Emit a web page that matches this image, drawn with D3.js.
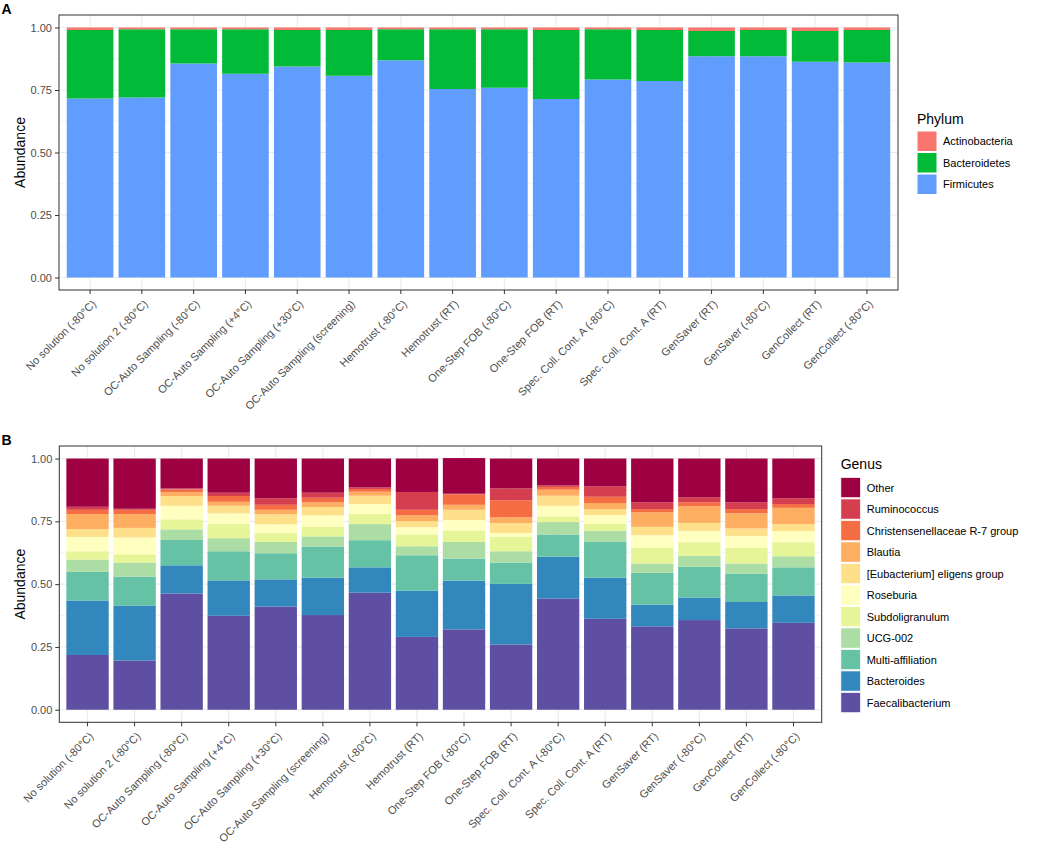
<!DOCTYPE html>
<html>
<head>
<meta charset="utf-8">
<script src="https://cdn.jsdelivr.net/npm/d3@7"></script>
<style>
  html, body { margin: 0; padding: 0; background: #fff; }
  svg { display: block; font-family: "Liberation Sans", Arial, sans-serif; }
</style>
</head>
<body>
<svg id="chart" width="1050" height="844"></svg>
<script>
// ---------- DATA ----------
const samples = [
  "No solution (-80°C)", "No solution 2 (-80°C)", "OC-Auto Sampling (-80°C)",
  "OC-Auto Sampling (+4°C)", "OC-Auto Sampling (+30°C)", "OC-Auto Sampling (screening)",
  "Hemotrust (-80°C)", "Hemotrust (RT)", "One-Step FOB (-80°C)", "One-Step FOB (RT)",
  "Spec. Coll. Cont. A (-80°C)", "Spec. Coll. Cont. A (RT)", "GenSaver (RT)",
  "GenSaver (-80°C)", "GenCollect (RT)", "GenCollect (-80°C)"
];

const phyla = ["Actinobacteria", "Bacteroidetes", "Firmicutes"];
const phylumColors = ["#F8766D", "#00BA38", "#619CFF"];
const firmicutes     = [0.716,0.720,0.856,0.815,0.844,0.807,0.869,0.754,0.759,0.714,0.792,0.786,0.885,0.885,0.863,0.860];
const bacteroidetes  = [0.274,0.273,0.137,0.178,0.146,0.183,0.124,0.239,0.234,0.276,0.201,0.204,0.101,0.105,0.123,0.130];
const actinobacteria = [0.010,0.007,0.007,0.007,0.010,0.010,0.007,0.007,0.007,0.010,0.007,0.010,0.014,0.010,0.014,0.010];

const genera = ["Other","Ruminococcus","Christensenellaceae R-7 group","Blautia",
  "[Eubacterium] eligens group","Roseburia","Subdoligranulum","UCG-002",
  "Multi-affiliation","Bacteroides","Faecalibacterium"];
const genusColors = ["#9E0142","#D53E4F","#F46D43","#FDAE61","#FEE08B","#FFFFBF",
  "#E6F598","#ABDDA4","#66C2A5","#3288BD","#5E4FA2"];
const faecalibacterium = [0.218,0.196,0.463,0.374,0.411,0.377,0.466,0.290,0.320,0.260,0.443,0.362,0.332,0.357,0.324,0.346];
const bacteroides      = [0.217,0.219,0.112,0.141,0.108,0.149,0.101,0.184,0.194,0.241,0.166,0.164,0.086,0.090,0.105,0.109];
const multiAffiliation = [0.114,0.115,0.101,0.116,0.104,0.124,0.108,0.141,0.088,0.085,0.089,0.142,0.127,0.122,0.113,0.112];
const ucg002           = [0.049,0.056,0.042,0.052,0.045,0.040,0.064,0.036,0.066,0.045,0.049,0.044,0.037,0.044,0.040,0.044];
const subdoligranulum  = [0.033,0.033,0.040,0.056,0.035,0.038,0.041,0.047,0.046,0.057,0.023,0.028,0.062,0.054,0.062,0.056];
const roseburia        = [0.057,0.067,0.054,0.043,0.035,0.046,0.039,0.029,0.041,0.016,0.042,0.035,0.051,0.045,0.048,0.044];
const eubacterium      = [0.031,0.038,0.039,0.030,0.040,0.033,0.033,0.024,0.041,0.039,0.040,0.024,0.033,0.032,0.030,0.028];
const blautia          = [0.060,0.055,0.015,0.016,0.018,0.019,0.016,0.023,0.020,0.023,0.024,0.024,0.058,0.066,0.060,0.065];
const christensenella  = [0.017,0.017,0.011,0.023,0.020,0.018,0.011,0.022,0.042,0.068,0.011,0.025,0.013,0.016,0.017,0.015];
const ruminococcus     = [0.012,0.004,0.004,0.013,0.026,0.020,0.006,0.071,0.002,0.047,0.006,0.041,0.027,0.020,0.027,0.023];
const other            = [0.192,0.200,0.119,0.136,0.158,0.136,0.115,0.133,0.142,0.119,0.107,0.111,0.174,0.154,0.174,0.158];

const yTicks = [0, 0.25, 0.5, 0.75, 1];
const yMinor = [0.125, 0.375, 0.625, 0.875];

// ---------- BUILD TABLES ----------
const phylumSeries = { "Actinobacteria": actinobacteria, "Bacteroidetes": bacteroidetes, "Firmicutes": firmicutes };
const genusSeries = {
  "Other": other, "Ruminococcus": ruminococcus, "Christensenellaceae R-7 group": christensenella,
  "Blautia": blautia, "[Eubacterium] eligens group": eubacterium, "Roseburia": roseburia,
  "Subdoligranulum": subdoligranulum, "UCG-002": ucg002, "Multi-affiliation": multiAffiliation,
  "Bacteroides": bacteroides, "Faecalibacterium": faecalibacterium
};

function table(series, keys) {
  return samples.map((s, i) => {
    const row = { sample: s };
    keys.forEach(k => row[k] = series[k][i]);
    return row;
  });
}

const svg = d3.select("#chart");
svg.append("rect").attr("width", 1050).attr("height", 844).attr("fill", "#fff");

function panel(cfg) {
  const { x0, x1, y0, y1, keys, colors, series, legendTitle, legX, legTitleY, legKeyY, letter, letterY } = cfg;
  const g = svg.append("g");
  const x = d3.scaleBand().domain(samples).range([x0, x1]).paddingInner(0.1).paddingOuter(0.15);
  const y = d3.scaleLinear().domain([-0.05, 1.05]).range([y1, y0]);

  // grid
  const grid = g.append("g");
  grid.selectAll(".minor").data(yMinor).join("line")
    .attr("x1", x0).attr("x2", x1).attr("y1", d => y(d)).attr("y2", d => y(d))
    .attr("stroke", "#ebebeb").attr("stroke-width", 0.6);
  grid.selectAll(".major").data(yTicks).join("line")
    .attr("x1", x0).attr("x2", x1).attr("y1", d => y(d)).attr("y2", d => y(d))
    .attr("stroke", "#ebebeb").attr("stroke-width", 1.1);
  grid.selectAll(".vmajor").data(samples).join("line")
    .attr("x1", d => x(d) + x.bandwidth() / 2).attr("x2", d => x(d) + x.bandwidth() / 2)
    .attr("y1", y0).attr("y2", y1)
    .attr("stroke", "#ebebeb").attr("stroke-width", 1.1);

  // bars (stack from bottom: last key at bottom)
  const stackKeys = keys.slice().reverse();
  const stacked = d3.stack().keys(stackKeys)(table(series, keys));
  const colorOf = d3.scaleOrdinal().domain(keys).range(colors);
  g.append("g").selectAll("g").data(stacked).join("g")
    .attr("fill", d => colorOf(d.key))
    .selectAll("rect").data(d => d).join("rect")
    .attr("x", d => x(d.data.sample))
    .attr("width", x.bandwidth())
    .attr("y", d => y(d[1]))
    .attr("height", d => y(d[0]) - y(d[1]));

  // border
  g.append("rect").attr("x", x0).attr("y", y0).attr("width", x1 - x0).attr("height", y1 - y0)
    .attr("fill", "none").attr("stroke", "#333").attr("stroke-width", 1);

  // y axis
  const ya = g.append("g").attr("transform", `translate(${x0},0)`)
    .call(d3.axisLeft(y).tickValues(yTicks).tickFormat(d3.format(".2f")).tickSize(4).tickPadding(3));
  ya.select(".domain").remove();
  ya.selectAll(".tick line").attr("stroke", "#333");
  ya.selectAll(".tick text").attr("fill", "#4d4d4d").style("font-size", "11px")
    .style("font-family", '"Liberation Sans", Arial, sans-serif');

  // x axis
  const xa = g.append("g").attr("transform", `translate(0,${y1})`)
    .call(d3.axisBottom(x).tickSize(4).tickSizeOuter(0));
  xa.select(".domain").remove();
  xa.selectAll(".tick line").attr("stroke", "#333");
  xa.selectAll(".tick text")
    .attr("fill", "#4d4d4d").style("font-size", "11px")
    .style("font-family", '"Liberation Sans", Arial, sans-serif')
    .attr("text-anchor", "end")
    .attr("y", 0).attr("dy", "0")
    .attr("transform", "translate(1,9) rotate(-45) translate(0,8)");

  // y title
  g.append("text").attr("transform", `translate(25,${(y0 + y1) / 2}) rotate(-90)`)
    .attr("text-anchor", "middle").style("font-size", "14px").attr("fill", "#000")
    .text("Abundance");

  // legend
  const leg = g.append("g");
  leg.append("text").attr("x", legX).attr("y", legTitleY).style("font-size", "14px").attr("fill", "#000").text(legendTitle);
  const items = leg.selectAll(".item").data(keys).join("g")
    .attr("transform", (d, i) => `translate(${legX},${legKeyY + i * 21.5})`);
  items.append("rect").attr("width", 20).attr("height", 20.5)
    .attr("fill", d => colorOf(d)).attr("stroke", "#fff").attr("stroke-width", 1);
  items.append("text").attr("x", 26).attr("y", 10.5).attr("dy", "0.35em")
    .style("font-size", "11px").attr("fill", "#000").text(d => d);

  // panel letter
  svg.append("text").attr("x", 1.5).attr("y", letterY).style("font-size", "14px")
    .style("font-weight", "bold").attr("fill", "#000").text(letter);
}

panel({ x0: 59, x1: 898, y0: 15, y1: 290, keys: phyla, colors: phylumColors, series: phylumSeries,
  legendTitle: "Phylum", legX: 917, legTitleY: 123.5, legKeyY: 131, letter: "A", letterY: 13.5 });

panel({ x0: 59.3, x1: 821.7, y0: 446, y1: 722.3, keys: genera, colors: genusColors, series: genusSeries,
  legendTitle: "Genus", legX: 840.7, legTitleY: 469, legKeyY: 477.3, letter: "B", letterY: 444.5 });
</script>
</body>
</html>
